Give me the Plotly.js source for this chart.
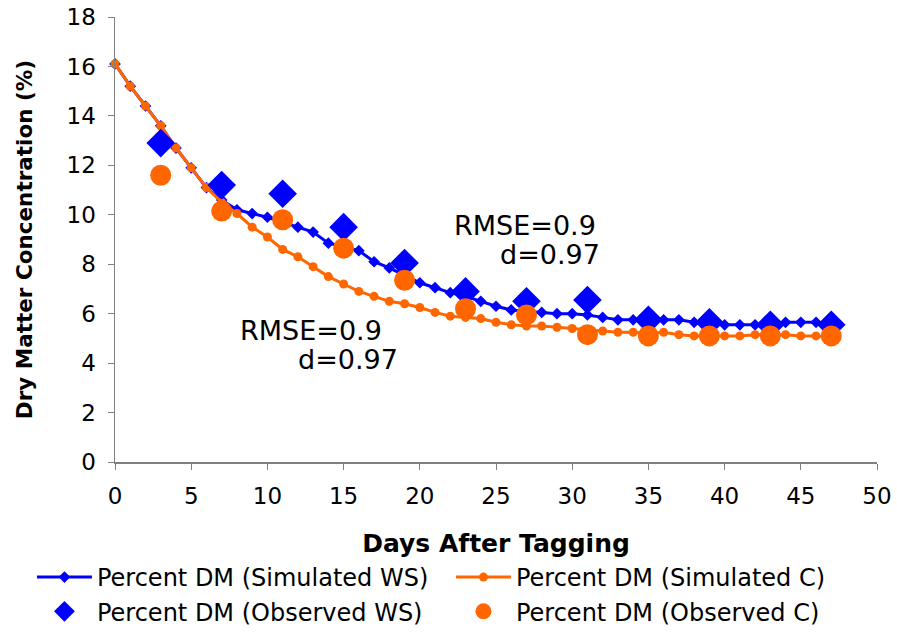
<!DOCTYPE html>
<html>
<head>
<meta charset="utf-8">
<script src="https://cdn.plot.ly/plotly-3.0.1.min.js"></script>
<style>html,body{margin:0;padding:0;background:#fff;}#chart{width:897px;height:634px;}</style>
</head>
<body>
<div id="chart"></div>
<script>
// Simulated series: one value per day, 0..47
const simDays = [0,1,2,3,4,5,6,7,8,9,10,11,12,13,14,15,16,17,18,19,20,21,22,23,24,25,26,27,28,29,30,31,32,33,34,35,36,37,38,39,40,41,42,43,44,45,46,47];
const simWS = [16.1,15.2,14.4,13.6,12.7,11.9,11.1,10.6,10.2,10.05,9.9,9.7,9.5,9.3,8.85,8.7,8.55,8.1,7.85,7.55,7.25,7.05,6.85,6.7,6.5,6.3,6.15,6.1,6.05,6.0,6.0,5.95,5.85,5.75,5.75,5.75,5.75,5.75,5.65,5.6,5.55,5.55,5.55,5.6,5.65,5.65,5.65,5.55];
const simC = [16.1,15.2,14.4,13.6,12.7,11.9,11.1,10.5,10.05,9.5,9.1,8.6,8.3,7.9,7.5,7.2,6.9,6.7,6.5,6.4,6.25,6.05,5.9,5.85,5.8,5.65,5.55,5.5,5.5,5.45,5.4,5.35,5.3,5.25,5.25,5.2,5.25,5.15,5.1,5.1,5.1,5.1,5.15,5.15,5.15,5.1,5.1,5.05];
// Observed series
const obsDays = [3,7,11,15,19,23,27,31,35,39,43,47];
const obsWS = [12.9,11.2,10.85,9.5,8.05,6.9,6.5,6.55,5.75,5.65,5.55,5.55];
const obsC = [11.6,10.15,9.8,8.65,7.35,6.2,5.95,5.15,5.1,5.1,5.1,5.1];
const xTicks = [0,5,10,15,20,25,30,35,40,45,50];
const yTicks = [0,2,4,6,8,10,12,14,16,18];
const names = ["Percent DM (Simulated WS)","Percent DM (Simulated C)","Percent DM (Observed WS)","Percent DM (Observed C)"];
const annLabels = ["RMSE=0.9","d=0.97","RMSE=0.9","d=0.97"];
const annX = [22.1, 25.1, 8.1, 11.9];
const annY = [9.55, 8.41, 5.30, 4.13];

const F = "DejaVu Sans, Liberation Sans, sans-serif";
const blue = "#0000FF", orange = "#FF6600";

const traces = [
  {x: simDays, y: simWS, name: names[0], type: "scatter", mode: "lines+markers",
   line: {color: blue, width: 3}, marker: {symbol: "diamond", size: 9, color: blue}, cliponaxis: false},
  {x: simDays, y: simC, name: names[1], type: "scatter", mode: "lines+markers",
   line: {color: orange, width: 3}, marker: {symbol: "circle", size: 9, color: orange}, cliponaxis: false},
  {x: obsDays, y: obsWS, name: names[2], type: "scatter", mode: "markers",
   marker: {symbol: "diamond", size: 22, color: blue}, cliponaxis: false},
  {x: obsDays, y: obsC, name: names[3], type: "scatter", mode: "markers",
   marker: {symbol: "circle", size: 21, color: orange}, cliponaxis: false}
];

const layout = {
  width: 897, height: 634,
  margin: {l: 115, r: 20, t: 17, b: 172, autoexpand: false},
  paper_bgcolor: "#fff", plot_bgcolor: "#fff",
  font: {family: F, size: 21, color: "#000"},
  showlegend: true,
  legend: {orientation: "h", x: -0.109, xanchor: "left", y: -0.209, yanchor: "top",
           entrywidth: 349, entrywidthmode: "pixels", traceorder: "normal",
           font: {family: F, size: 24, color: "#000"}, itemwidth: 55, tracegroupgap: 0},
  xaxis: {range: [0, 50], tickvals: xTicks, ticks: "outside", ticklen: 6, tickcolor: "#808080",
          showline: true, linecolor: "#808080", linewidth: 1.5, showgrid: false, zeroline: false,
          tickfont: {family: F, size: 23}, automargin: false, ticklabelstandoff: 7,
          title: {text: "<b>Days After Tagging</b>", font: {family: F, size: 25}, standoff: 26}},
  yaxis: {range: [0, 18], tickvals: yTicks, ticks: "outside", ticklen: 6, tickcolor: "#808080",
          showline: true, linecolor: "#808080", linewidth: 1.5, showgrid: false, zeroline: false,
          tickfont: {family: F, size: 23}, automargin: false, ticklabelstandoff: 7,
          title: {text: "<b>Dry Matter Concentration (%)</b>", font: {family: F, size: 21.5}, standoff: 28}},
  annotations: annLabels.map((t, i) => ({text: t, x: annX[i], y: annY[i], xref: "x", yref: "y",
      xanchor: "left", yanchor: "middle", showarrow: false, font: {family: F, size: 27, color: "#000"}}))
};

Plotly.newPlot("chart", traces, layout, {displayModeBar: false, staticPlot: true});
</script>
</body>
</html>
